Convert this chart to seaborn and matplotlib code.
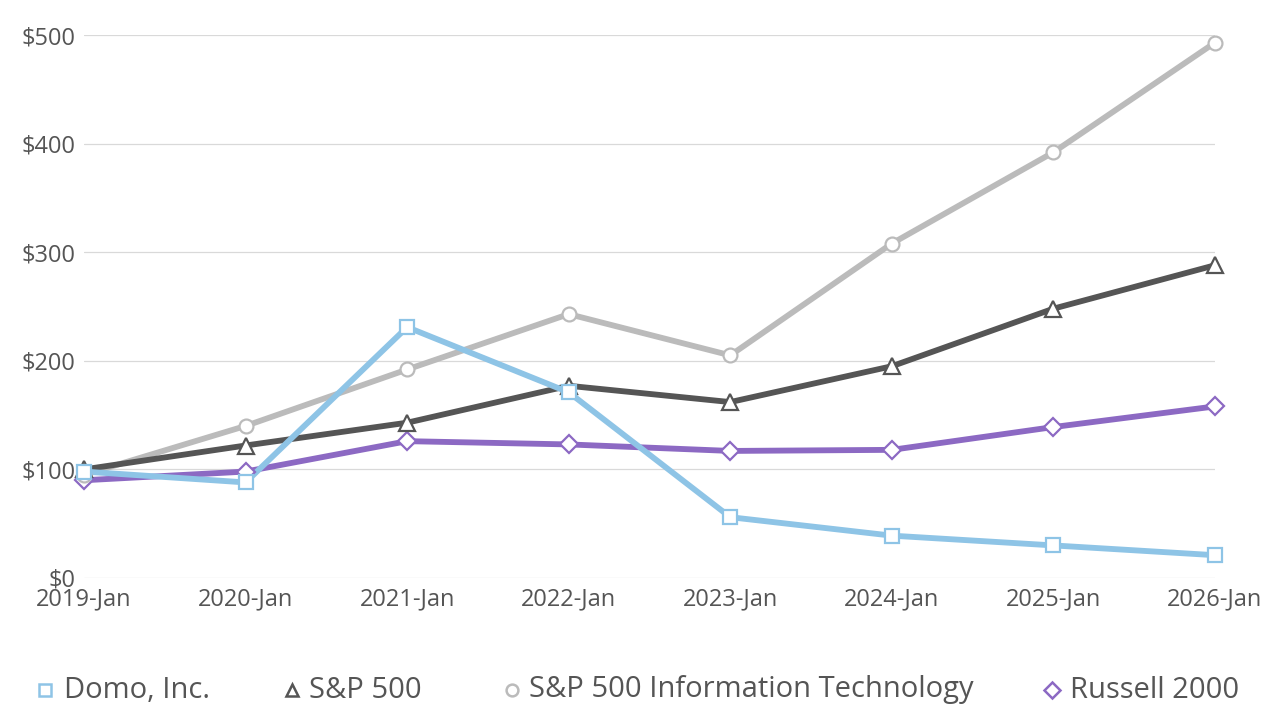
import pandas as pd
import seaborn as sns
import matplotlib.pyplot as plt
from matplotlib.lines import Line2D

sns.set_style("white")
plt.rcParams['font.family'] = ['Open Sans', 'DejaVu Sans']

# Données
dates = ["2019-Jan", "2020-Jan", "2021-Jan", "2022-Jan", "2023-Jan", "2024-Jan", "2025-Jan", "2026-Jan"]
domo = [98, 88, 231, 171, 56, 39, 30, 21]
sp500 = [100, 122, 143, 177, 162, 195, 248, 288]
sp500_it = [95, 140, 192, 243, 205, 308, 392, 493]
russell = [90, 98, 126, 123, 117, 118, 139, 158]
y_ticks = [0, 100, 200, 300, 400, 500]

series = ["Domo, Inc.", "S&P 500", "S&P 500 Information Technology", "Russell 2000"]
values = [domo, sp500, sp500_it, russell]
colors = ["#8EC4E6", "#555555", "#BBBBBB", "#8C69C3"]
markers = ["s", "^", "o", "D"]
msizes = [10, 11, 10, 9.5]
leg_sizes = [9, 9, 8.5, 8.5]
line_z = [5, 4, 3, 2]

df = pd.DataFrame({"pos": list(range(len(dates))) * 4,
                   "value": domo + sp500 + sp500_it + russell,
                   "serie": [s for s in series for _ in dates]})

fig = plt.figure(figsize=(12.87, 7.17), dpi=100)
ax = fig.add_axes([84 / 1287, 1 - 578 / 717, (1215 - 84) / 1287, (578 - 35) / 717])

# lignes d'abord, marqueurs ensuite (au-dessus)
for i, s in enumerate(series):
    d = df[df["serie"] == s]
    sns.lineplot(data=d, x="pos", y="value", color=colors[i], lw=4.2, ax=ax,
                 zorder=line_z[i], legend=False)
for i, s in enumerate(series):
    d = df[df["serie"] == s]
    ax.plot(d["pos"], d["value"], ls="none", marker=markers[i], ms=msizes[i],
            mfc="white", mec=colors[i], mew=1.6, zorder=10 + line_z[i], clip_on=False)

ax.set_xlim(0, len(dates) - 1)
ax.set_ylim(0, 500)
ax.set_xticks(range(len(dates)))
ax.set_xticklabels(dates)
ax.set_yticks(y_ticks)
ax.set_yticklabels(["${}".format(v) for v in y_ticks])
ax.tick_params(axis="both", length=0, labelsize=17, labelcolor="#555555")
ax.tick_params(axis="y", pad=6)
ax.tick_params(axis="x", pad=7)
ax.yaxis.grid(True, color="#D9D9D9", lw=0.9)
ax.set_xlabel("")
ax.set_ylabel("")
for sp in ax.spines.values():
    sp.set_visible(False)

# Légende manuelle en bas
leg_marker_x = [45, 292, 512, 1052]
leg_text_x = [64, 309, 529, 1070]
leg_y = 1 - 690 / 717
for i, s in enumerate(series):
    fig.add_artist(Line2D([leg_marker_x[i] / 1287], [leg_y], ls="none", marker=markers[i],
                          ms=leg_sizes[i], mfc="white", mec=colors[i], mew=1.8))
    fig.text(leg_text_x[i] / 1287, leg_y, s, fontsize=21, color="#555555", va="center", ha="left")

fig.savefig("out.png", dpi=100)
